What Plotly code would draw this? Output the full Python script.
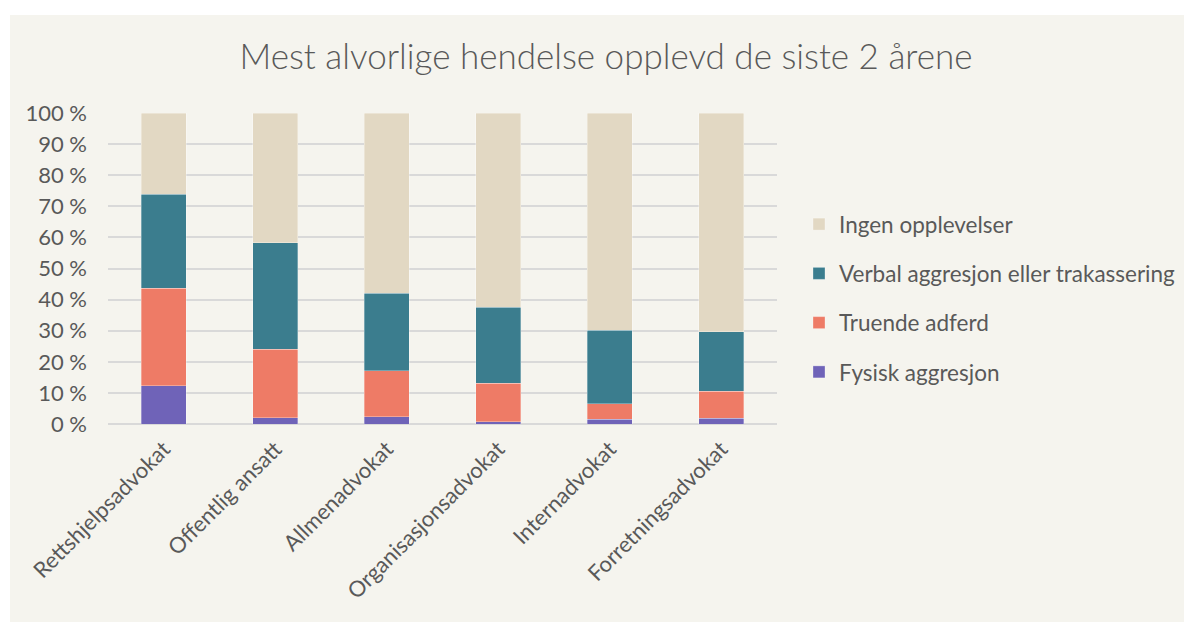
import plotly.graph_objects as go

categories = ["Rettshjelpsadvokat", "Offentlig ansatt", "Allmenadvokat",
              "Organisasjonsadvokat", "Internadvokat", "Forretningsadvokat"]
fysisk = [12.3, 2.0, 2.3, 0.7, 1.5, 1.8]
truende = [31.4, 22.1, 14.8, 12.4, 5.0, 8.7]
verbal = [30.2, 34.2, 25.0, 24.4, 23.6, 19.2]
ingen = [26.1, 41.7, 57.9, 62.5, 69.9, 70.3]
series_names = ["Fysisk aggresjon", "Truende adferd",
                "Verbal aggresjon eller trakassering", "Ingen opplevelser"]
series_colors = ["#6F63B8", "#EE7B66", "#3B7D8E", "#E2D8C3"]
ytick_vals = list(range(0, 101, 10))
ytick_text = [f"{v} %" for v in ytick_vals]

font_family = "Lato, Open Sans, sans-serif"
text_color = "#595959"
bg = "#F5F4EE"

fig = go.Figure()
for i, (name, vals, col) in enumerate(zip(series_names, [fysisk, truende, verbal, ingen], series_colors)):
    fig.add_trace(go.Bar(
        x=categories, y=vals, name=name, legendgroup=name, legendrank=10 - i,
        marker=dict(color=col, line=dict(width=0.6, color="rgba(255,255,255,0.5)")),
    ))

# the page body adds an 8px offset; compensate
OFF = 8
W, H = 1192, 622
L = 108 - OFF
T = 113 - OFF
R = W - (777 - OFF)
B = H - (424 - OFF)
pw, ph = W - L - R, H - T - B

fig.update_layout(
    width=W, height=H,
    barmode="stack", bargap=0.6,
    paper_bgcolor="white", plot_bgcolor=bg,
    margin=dict(l=L, r=R, t=T, b=B, pad=0),
    font=dict(family=font_family, color=text_color, size=22),
    title=dict(text="Mest alvorlige hendelse opplevd de siste 2 årene",
               x=(606 - OFF) / W, xref="container", xanchor="center",
               y=1 - (57 - OFF) / H, yref="container", yanchor="middle",
               font=dict(size=35, color=text_color, family=font_family, weight=300)),
    legend=dict(x=(799 - 108) / pw, xanchor="left", y=(424 - 298) / ph, yanchor="middle",
                traceorder="grouped", tracegroupgap=17,
                font=dict(size=22.5, color=text_color), bgcolor="rgba(0,0,0,0)"),
    xaxis=dict(tickangle=-45, showgrid=False, showline=False, ticks="",
               ticklabelstandoff=7, tickfont=dict(size=22)),
    yaxis=dict(range=[0, 100], tickvals=ytick_vals, ticktext=ytick_text,
               showgrid=True, gridcolor="#D9D9D9", gridwidth=1.5,
               zeroline=True, zerolinecolor="#D9D9D9", zerolinewidth=1.5,
               ticks="", ticklabelstandoff=20, tickfont=dict(size=22)),
    shapes=[dict(type="rect", xref="paper", yref="paper", layer="below",
                 x0=(10 - 108) / pw, x1=(W + 20 - 108) / pw,
                 y0=-(H + 20 - 424) / ph, y1=(424 - 15) / ph,
                 fillcolor=bg, line=dict(width=0))],
)

fig.write_html("out.html")
